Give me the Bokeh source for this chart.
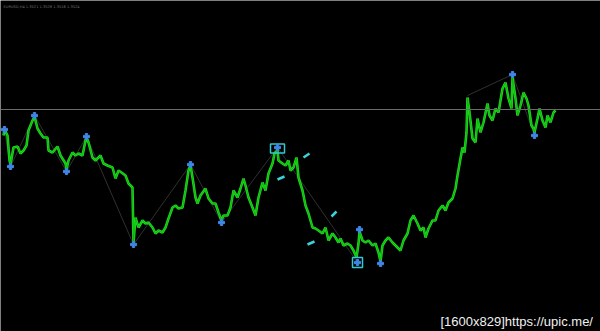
from bokeh.plotting import figure
from bokeh.models import Range1d, Span, Label
from bokeh.embed import file_html
from bokeh.resources import INLINE

# Bar positions and price levels (chart level; larger = lower on screen)
bar_x = [3, 4, 7, 9, 10, 13, 17, 20, 23, 26, 28, 32, 34, 37, 40, 43, 47, 48, 52, 57, 60, 65, 66, 68, 72, 75, 78, 82, 85, 86,
         88, 92, 95, 100, 103, 107, 112, 115, 118, 121, 125, 128, 132, 133, 135, 138, 142, 145, 148, 152, 155, 158, 162, 165,
         168, 172, 175, 178, 182, 185, 188, 190, 192, 195, 197, 200, 205, 208, 212, 215, 218, 221, 223, 227, 230, 233, 237,
         240, 243, 245, 248, 252, 255, 258, 262, 265, 268, 272, 274, 277, 278, 282, 285, 288, 290, 293, 296, 298, 302, 305,
         308, 312, 315, 318, 322, 325, 328, 332, 335, 338, 340, 343, 347, 350, 353, 356, 358, 359, 362, 365, 368, 372, 375,
         378, 380, 382, 385, 388, 392, 395, 398, 400, 403, 407, 410, 413, 417, 420, 423, 425, 428, 432, 435, 438, 442, 445,
         448, 452, 455, 457, 460, 462, 464, 466, 467, 469, 472, 475, 477, 480, 483, 487, 489, 492, 495, 498, 502, 505, 508,
         511, 512, 515, 517, 520, 523, 526, 528, 531, 533, 534, 537, 539, 542, 545, 547, 550, 553, 555]
level = [135, 129, 135, 160, 164, 147, 146, 153, 150, 145, 130, 120, 116, 128, 133, 137, 137, 150, 152, 146, 155, 163, 169,
         160, 152, 155, 153, 155, 140, 137, 142, 157, 160, 155, 163, 165, 167, 178, 170, 172, 175, 183, 187, 242, 217, 227,
         220, 223, 222, 227, 233, 230, 232, 227, 218, 207, 205, 208, 207, 190, 170, 165, 177, 197, 203, 195, 188, 198, 203,
         203, 212, 220, 215, 215, 207, 190, 197, 188, 178, 185, 197, 207, 215, 197, 182, 190, 173, 163, 153, 150, 160, 163,
         165, 160, 170, 167, 157, 177, 190, 205, 213, 227, 228, 230, 233, 227, 240, 233, 237, 242, 238, 245, 243, 245, 250,
         257, 243, 231, 240, 242, 240, 245, 243, 252, 261, 245, 240, 237, 242, 245, 248, 250, 240, 233, 220, 215, 223, 230,
         227, 237, 228, 220, 220, 210, 205, 210, 202, 198, 188, 175, 158, 147, 152, 132, 97, 112, 138, 142, 118, 132, 122,
         103, 115, 120, 108, 112, 88, 82, 98, 108, 77, 98, 115, 105, 92, 98, 105, 125, 128, 132, 118, 108, 120, 127, 115,
         122, 112, 110]

# Fractal turning points
frac_x = [4, 10, 34, 66, 86, 133, 190, 221, 277, 357, 359, 380, 512, 534]
frac_y = [129, 166, 115, 171, 136, 244, 164, 222, 147, 262, 229, 263, 74, 135]
# Zigzag legs
zig_xs = [[4, 10, 34, 66, 86, 133, 190, 221, 277, 357], [467, 512, 534]]
zig_ys = [[129, 166, 115, 171, 136, 244, 164, 222, 147, 262], [95, 74, 135]]

# Highlight boxes (center x, center y, w, h)
box_x = [277, 357]
box_y = [148, 262]
box_w = [14, 10]
box_h = [9, 10]

# Signal arrows (start/end)
arr_x0 = [303, 277, 331, 307]
arr_y0 = [157, 179, 216, 244]
arr_x1 = [309, 284, 336, 314]
arr_y1 = [153, 176, 211, 241]

level_line = 109

p = figure(width=600, height=331, output_backend="svg", toolbar_location=None,
           x_range=Range1d(0, 600), y_range=Range1d(331, 0),
           background_fill_color="black", border_fill_color="black",
           min_border=0, min_border_left=0, min_border_right=0, min_border_top=0, min_border_bottom=0)
p.axis.visible = False
p.grid.visible = False
p.outline_line_color = None

p.add_layout(Span(location=level_line, dimension="width", line_color="#6a6a6a", line_width=1))

p.multi_line(zig_xs, zig_ys, line_color="#303030", line_width=1)

p.line(bar_x, level, line_color="#1adc1a", line_width=2.6)
p.line(bar_x, level, line_color="#0c8c0c", line_width=0.8, line_alpha=0.6)

p.segment(arr_x0, arr_y0, arr_x1, arr_y1, line_color="#3cd2dc", line_width=2.5)
p.rect(box_x, box_y, box_w, box_h, fill_color=None, line_color="#33c8d2", line_width=1.5)
p.scatter(frac_x, frac_y, marker="plus", size=6, fill_color="#3f86e6", line_color="#3f86e6")

p.add_layout(Label(x=3, y=323, x_units="screen", y_units="screen",
                   text="EURUSD,H4  1.3521 1.3528 1.3516 1.3524",
                   text_color="#707070", text_font_size="3.6px", text_font="DejaVu Sans"))
p.add_layout(Label(x=440, y=3, x_units="screen", y_units="screen",
                   text="[1600x829]https://upic.me/",
                   text_color="#f0f0f0", text_font_size="13px", text_font="Liberation Sans"))

open("out.html", "w").write(file_html(p, INLINE))
